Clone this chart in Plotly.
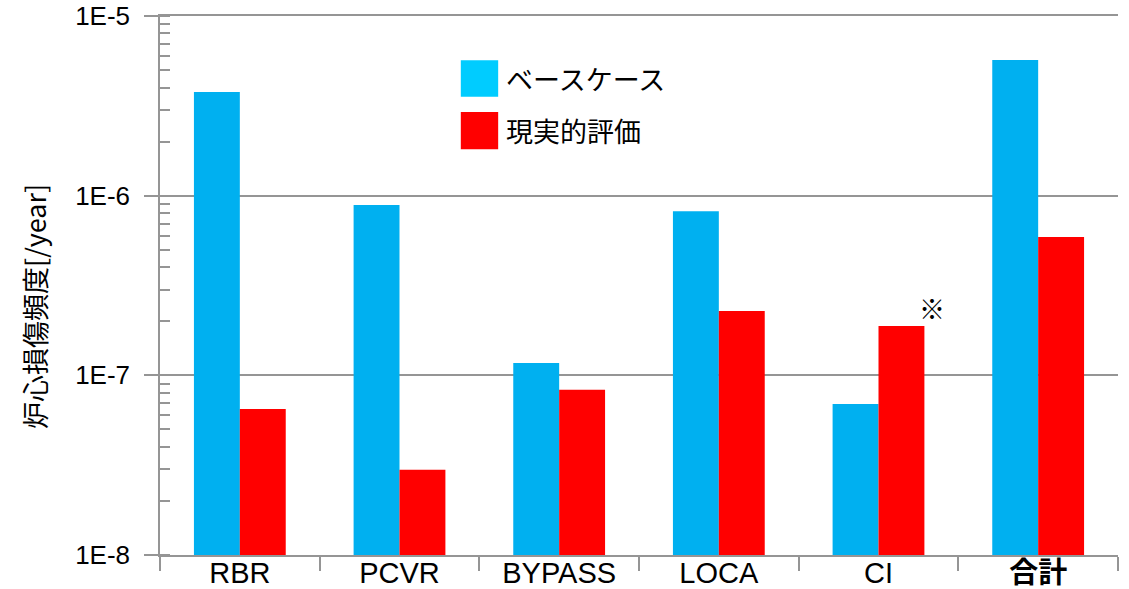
import math
import plotly.graph_objects as go

categories = ["RBR", "PCVR", "BYPASS", "LOCA", "CI", "合計"]
tick_labels = ["RBR", "PCVR", "BYPASS", "LOCA", "CI", "<b>合計</b>"]
base_case = [3.78e-6, 8.87e-7, 1.17e-7, 8.2e-7, 6.93e-8, 5.69e-6]
realistic = [6.5e-8, 2.98e-8, 8.3e-8, 2.28e-7, 1.88e-7, 5.89e-7]
series_names = ["ベースケース", "現実的評価"]
y_tickvals = [1e-8, 1e-7, 1e-6, 1e-5]
y_ticktext = ["1E-8", "1E-7", "1E-6", "1E-5"]
y_title = "炉心損傷頻度[/year]"

FONT = "Liberation Sans, Arial, Noto Sans CJK JP, sans-serif"
JFONT = "Noto Sans CJK JP, Liberation Sans, sans-serif"
GRAY = "#959595"

fig = go.Figure()
fig.add_trace(go.Bar(x=categories, y=base_case, name=series_names[0],
                     marker=dict(color="#00B0F0", line=dict(width=0)), showlegend=False))
fig.add_trace(go.Bar(x=categories, y=realistic, name=series_names[1],
                     marker=dict(color="#FF0000", line=dict(width=0)), showlegend=False))

fig.update_layout(
    width=1129, height=589,
    margin=dict(l=160, r=11, t=16, b=34, autoexpand=False),
    paper_bgcolor="white", plot_bgcolor="white",
    barmode="group", bargap=0.425, bargroupgap=0,
    font=dict(family=FONT, color="black"),
)
fig.update_xaxes(
    type="category", categoryorder="array", categoryarray=categories,
    tickvals=categories, ticktext=tick_labels, automargin=False,
    tickson="boundaries", ticks="outside", ticklen=14, tickcolor=GRAY, tickwidth=1.5,
    showline=True, linecolor=GRAY, linewidth=1.5, mirror=True,
    showgrid=False, tickfont=dict(size=29, family=FONT, color="black"),
    ticklabelstandoff=-9,
)
fig.update_yaxes(
    type="log", range=[-8, -5], automargin=False,
    tickvals=y_tickvals, ticktext=y_ticktext,
    ticks="outside", ticklen=14, tickcolor=GRAY, tickwidth=1.5,
    showline=True, linecolor=GRAY, linewidth=1.5,
    showgrid=True, gridcolor=GRAY, gridwidth=1.5,
    tickfont=dict(size=26, family=FONT, color="black"),
    ticklabelstandoff=9,
    minor=dict(ticks="inside", ticklen=10, tickcolor=GRAY, tickwidth=1.5,
               dtick="D1", showgrid=False),
)

# y-axis title
fig.add_annotation(text=y_title, textangle=-90, xref="paper", yref="paper",
                   x=-0.1305, y=0.462, xanchor="center", yanchor="middle",
                   showarrow=False,
                   font=dict(size=27, family=JFONT, color="black"))

# ※ mark beside the CI realistic bar
fig.add_annotation(text="※", x="CI", y=math.log10(2.4e-7), xref="x", yref="y",
                   xshift=53, showarrow=False,
                   font=dict(size=26, family=JFONT, color="black"))

# custom legend
legend_colors = ["#00CCFF", "#FF0000"]
legend_rows = [(0.918, 0.850), (0.822, 0.753)]
for name, col, (y1, y0) in zip(series_names, legend_colors, legend_rows):
    fig.add_shape(type="rect", xref="paper", yref="paper",
                  x0=0.314, x1=0.353, y0=y0, y1=y1,
                  fillcolor=col, line=dict(width=0))
    fig.add_annotation(text=name, xref="paper", yref="paper",
                       x=0.359, y=(y0 + y1) / 2, xanchor="left", yanchor="middle",
                       showarrow=False, font=dict(size=27, family=JFONT, color="black"))

fig.write_html("out.html")
